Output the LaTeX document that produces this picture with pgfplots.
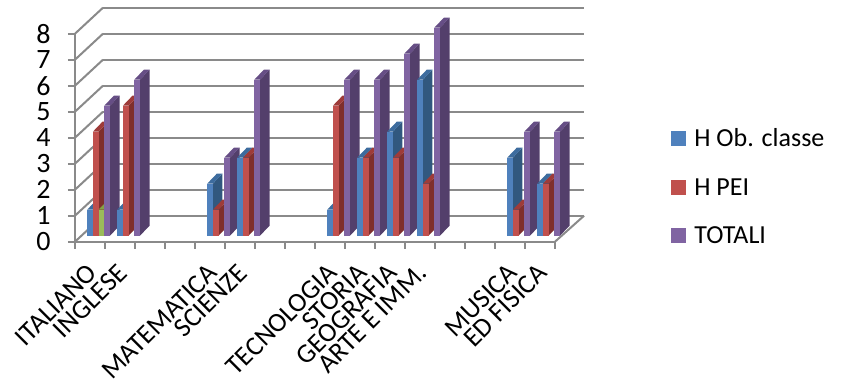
\documentclass[border=0pt]{standalone}
\usepackage{pgfplots}
\pgfplotsset{compat=1.18}
\usepackage{fontspec}
\setmainfont{Carlito}
\definecolor{bF}{HTML}{4F81BD}\definecolor{bS}{HTML}{31587F}\definecolor{bT}{HTML}{3D6C9E}
\definecolor{rF}{HTML}{C0504D}\definecolor{rS}{HTML}{7F2F2D}\definecolor{rT}{HTML}{9E3B39}
\definecolor{gF}{HTML}{9BBB59}\definecolor{gS}{HTML}{6A8535}\definecolor{gT}{HTML}{84A244}
\definecolor{pF}{HTML}{8064A2}\definecolor{pS}{HTML}{533F6B}\definecolor{pT}{HTML}{664E85}
\definecolor{wall}{HTML}{8A8A8A}
% slot, series index, value, colour prefix
\newcommand{\tdbar}[4]{%
  \pgfmathsetmacro{\Xa}{#1+0.405+#2*0.19}%
  \pgfmathsetmacro{\Xb}{\Xa+0.19}%
  \pgfmathsetmacro{\Xc}{\Xb+0.32}%
  \pgfmathsetmacro{\Xd}{\Xa+0.32}%
  \pgfmathsetmacro{\Ya}{0.23}%
  \pgfmathsetmacro{\Yb}{0.23+#3}%
  \pgfmathsetmacro{\Yc}{\Ya+0.385}%
  \pgfmathsetmacro{\Yd}{\Yb+0.385}%
  \edef\tmp{\noexpand\addplot[forget plot,fill=#4S,draw=none] coordinates {(\Xb,\Ya)(\Xc,\Yc)(\Xc,\Yd)(\Xb,\Yb)} --cycle;
  \noexpand\addplot[forget plot,fill=#4T,draw=none] coordinates {(\Xa,\Yb)(\Xb,\Yb)(\Xc,\Yd)(\Xd,\Yd)} --cycle;
  \noexpand\addplot[forget plot,fill=#4F,draw=none] coordinates {(\Xa,\Ya)(\Xb,\Ya)(\Xb,\Yb)(\Xa,\Yb)} --cycle;}%
  \tmp
}
\begin{document}
\begin{tikzpicture}[x=1pt,y=1pt]
\path[use as bounding box] (0,0) rectangle (844,383);
\begin{axis}[
  at={(75pt,141.3pt)}, anchor=south west,
  x=30pt, y=26pt,
  xmin=0, xmax=17, ymin=0, ymax=9,
  clip=false,
  axis x line=bottom, axis y line=left,
  axis line style={draw=none},
  tick align=outside,
  major tick length=7pt,
  tick style={wall,line width=2pt},
  xtick={0,1,...,16},
  xticklabels={},
  ytick={0,1,...,8},
  /pgf/number format/assume math mode=true,
  tick label style={font=\fontsize{28}{28}\selectfont},
  yticklabel style={xshift=-14pt},
  extra x ticks={0.5,1.5,4.5,5.5,8.5,9.5,10.5,11.5,14.5,15.5},
  extra x tick labels={ITALIANO,INGLESE,MATEMATICA,SCIENZE,TECNOLOGIA,STORIA,GEOGRAFIA,ARTE E IMM.,MUSICA,ED FISICA},
  extra x tick style={major tick length=0pt, tick style={draw=none},
    xticklabel style={xshift=-4pt,yshift=-20.5pt,rotate=45,anchor=north east,font=\fontsize{27}{27}\selectfont,inner sep=0pt}},
  legend image code/.code={\fill[#1,draw=none] (0pt,-7.5pt) rectangle (15pt,7.5pt);},
  legend style={at={(1.169,0.2338)},anchor=west,draw=none,fill=none,inner sep=0pt,
    font=\fontsize{26}{26}\selectfont,row sep=30pt,
    nodes={inner sep=0pt,anchor=west}},
  legend cell align=left,
]
% walls
\addplot[forget plot,wall,line width=2.2pt] coordinates {(0.933,1)(16.97,1)};
\addplot[forget plot,wall,line width=2.2pt] coordinates {(0.933,2)(16.97,2)};
\addplot[forget plot,wall,line width=2.2pt] coordinates {(0.933,3)(16.97,3)};
\addplot[forget plot,wall,line width=2.2pt] coordinates {(0.933,4)(16.97,4)};
\addplot[forget plot,wall,line width=2.2pt] coordinates {(0.933,5)(16.97,5)};
\addplot[forget plot,wall,line width=2.2pt] coordinates {(0.933,6)(16.97,6)};
\addplot[forget plot,wall,line width=2.2pt] coordinates {(0.933,7)(16.97,7)};
\addplot[forget plot,wall,line width=2.2pt] coordinates {(0.933,8)(16.97,8)};
\addplot[forget plot,wall,line width=2.2pt] coordinates {(0.933,9)(16.97,9)};
\addplot[forget plot,wall,line width=2pt] coordinates {(0,0)(0.933,1)};
\addplot[forget plot,wall,line width=2pt] coordinates {(0,1)(0.933,2)};
\addplot[forget plot,wall,line width=2pt] coordinates {(0,2)(0.933,3)};
\addplot[forget plot,wall,line width=2pt] coordinates {(0,3)(0.933,4)};
\addplot[forget plot,wall,line width=2pt] coordinates {(0,4)(0.933,5)};
\addplot[forget plot,wall,line width=2pt] coordinates {(0,5)(0.933,6)};
\addplot[forget plot,wall,line width=2pt] coordinates {(0,6)(0.933,7)};
\addplot[forget plot,wall,line width=2pt] coordinates {(0,7)(0.933,8)};
\addplot[forget plot,wall,line width=2pt] coordinates {(0,8)(0.933,9)};
\addplot[forget plot,wall,line width=2.4pt] coordinates {(0,0)(0,8)};
\addplot[forget plot,wall,line width=2.2pt] coordinates {(0,0)(16,0)};
\addplot[forget plot,wall,line width=2pt] coordinates {(16,0)(16.97,1)};
% bars: slot, series, value, colour
\tdbar{0}{0}{1}{b}\tdbar{0}{1}{4}{r}\tdbar{0}{2}{1}{g}\tdbar{0}{3}{5}{p}
\tdbar{1}{0}{1}{b}\tdbar{1}{1}{5}{r}\tdbar{1}{3}{6}{p}
\tdbar{4}{0}{2}{b}\tdbar{4}{1}{1}{r}\tdbar{4}{3}{3}{p}
\tdbar{5}{0}{3}{b}\tdbar{5}{1}{3}{r}\tdbar{5}{3}{6}{p}
\tdbar{8}{0}{1}{b}\tdbar{8}{1}{5}{r}\tdbar{8}{3}{6}{p}
\tdbar{9}{0}{3}{b}\tdbar{9}{1}{3}{r}\tdbar{9}{3}{6}{p}
\tdbar{10}{0}{4}{b}\tdbar{10}{1}{3}{r}\tdbar{10}{3}{7}{p}
\tdbar{11}{0}{6}{b}\tdbar{11}{1}{2}{r}\tdbar{11}{3}{8}{p}
\tdbar{14}{0}{3}{b}\tdbar{14}{1}{1}{r}\tdbar{14}{3}{4}{p}
\tdbar{15}{0}{2}{b}\tdbar{15}{1}{2}{r}\tdbar{15}{3}{4}{p}
\addlegendimage{fill=bF}\addlegendentry{\hspace{8pt}H Ob. classe}
\addlegendimage{fill=rF}\addlegendentry{\hspace{8pt}H PEI}
\addlegendimage{fill=pF}\addlegendentry{\hspace{8pt}TOTALI}
\end{axis}
\end{tikzpicture}
\end{document}
